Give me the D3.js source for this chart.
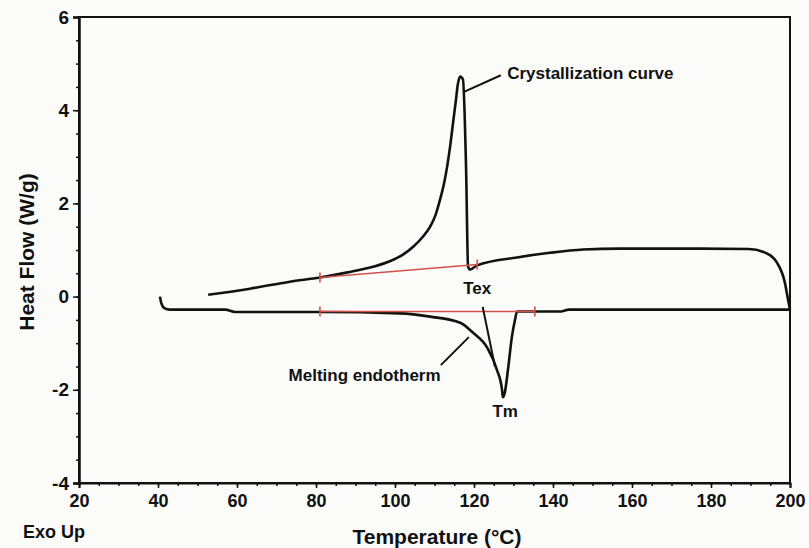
<!DOCTYPE html>
<html><head><meta charset="utf-8">
<script src="https://cdn.jsdelivr.net/npm/d3@7"></script>
<style>
html,body{margin:0;padding:0;background:#fbfbfa;}
svg{display:block;font-family:"Liberation Sans",Arial,sans-serif;}
</style></head>
<body>
<svg id="c" width="809" height="548"></svg>
<script>
// ---- data ----
const xTicks = [20,40,60,80,100,120,140,160,180,200];
const yTicks = [-4,-2,0,2,4,6];
const yTickLabels = ["-4","-2","0","2","4","6"];
// crystallization (cooling) curve: temperature °C, heat flow W/g
const coolT = [52.7,63.3,73.4,81.0,88.0,94.4,99.0,102.0,104.6,107.0,108.9,110.3,111.4,112.4,113.2,114.0,114.7,115.4,115.9,116.5,117.2,118.0,118.5,119.0,120.8,130.9,139.2,147.6,157.0,177.2,189.5,193.5,196.7,198.7,199.5,200.0];
const coolV = [0.04,0.17,0.32,0.41,0.52,0.64,0.77,0.90,1.07,1.28,1.50,1.76,2.08,2.42,2.79,3.25,3.73,4.20,4.55,4.72,4.66,2.73,0.64,0.58,0.67,0.84,0.94,1.01,1.03,1.03,1.02,0.95,0.73,0.30,-0.06,-0.28];
// heating curve with melting endotherm
const heatT = [40.5,40.8,41.5,43.0,57.0,59.5,81.0,101.3,108.9,116.5,119.7,123.3,125.8,127.1,127.3,127.8,128.6,129.6,130.4,130.9,135.4,142.0,144.0,200.0];
const heatV = [0.0,-0.13,-0.24,-0.28,-0.28,-0.33,-0.33,-0.36,-0.43,-0.56,-0.77,-1.09,-1.57,-2.0,-2.16,-2.06,-1.57,-0.86,-0.49,-0.32,-0.32,-0.32,-0.28,-0.28];
// red integration baselines [T1,V1,T2,V2]
const baseUpper = [81.0,0.41,120.8,0.69];
const baseLower = [81.0,-0.32,135.4,-0.32];
const upperBaseTicks = [81.0,120.8];
const lowerBaseTicks = [81.0,135.4];
// annotations
const labelTexts = ["Crystallization curve","Tex","Melting endotherm","Tm"];
const labels = [
  {T:128.4, V:4.76, anchor:"start", lead:[117.6,4.40,126.8,4.75]},
  {T:120.8, V:0.15, anchor:"middle", lead:[122.2,-0.22,125.3,-1.50]},
  {T:92.3, V:-1.72, anchor:"middle", lead:[111.6,-1.47,118.7,-0.87]},
  {T:127.9, V:-2.48, anchor:"middle", lead:null}
];

// ---- layout ----
const svg = d3.select("#c");
const L=79, R=790, T=17, B=483;
const x = d3.scaleLinear().domain([20,200]).range([L,R]);
const y = d3.scaleLinear().domain([-4,6]).range([B,T]);
const FF = "'Liberation Sans',Arial,sans-serif";

// frame
svg.append("rect").attr("x",L).attr("y",T).attr("width",R-L).attr("height",B-T)
  .attr("fill","none").attr("stroke","#111").attr("stroke-width",2);

// x axis
const xMinor = d3.range(20,201,5);
const xa = svg.append("g").attr("transform",`translate(0,${B})`);
xa.call(d3.axisBottom(x).tickValues(xMinor).tickSize(3).tickFormat(""));
xa.call(g=>g.selectAll(".domain").remove());
xa.selectAll("line").attr("stroke","#111").attr("stroke-width",1.5);
const xb = svg.append("g").attr("transform",`translate(0,${B})`);
xb.call(d3.axisBottom(x).tickValues(xTicks).tickSize(5).tickPadding(6).tickFormat(d=>String(d)));
xb.select(".domain").attr("stroke","#111").attr("stroke-width",2);
xb.selectAll("line").attr("stroke","#111").attr("stroke-width",1.5);
xb.selectAll("text").style("font-size","18px").style("font-weight","bold").style("font-family",FF).attr("fill","#111");

// y axis
const yMinor = d3.range(-4,6.01,0.5);
const ya = svg.append("g").attr("transform",`translate(${L},0)`);
ya.call(d3.axisLeft(y).tickValues(yMinor).tickSize(3).tickFormat(""));
ya.call(g=>g.selectAll(".domain").remove());
ya.selectAll("line").attr("stroke","#111").attr("stroke-width",1.5);
const yb = svg.append("g").attr("transform",`translate(${L},0)`);
yb.call(d3.axisLeft(y).tickValues(yTicks).tickSize(6).tickPadding(4).tickFormat((d,i)=>yTickLabels[i]));
yb.select(".domain").attr("stroke","#111").attr("stroke-width",2.5);
yb.selectAll("line").attr("stroke","#111").attr("stroke-width",1.5);
yb.selectAll("text").style("font-size","19px").style("font-weight","bold").style("font-family",FF).attr("fill","#111");

// axis titles
svg.append("text").attr("transform","translate(34,252) rotate(-90)").attr("text-anchor","middle")
  .style("font-size","21px").style("font-weight","bold").style("font-family",FF).attr("fill","#111").text("Heat Flow (W/g)");
svg.append("text").attr("x",437).attr("y",544).attr("text-anchor","middle")
  .style("font-size","21px").style("font-weight","bold").style("font-family",FF).attr("fill","#111").text("Temperature (°C)");
svg.append("text").attr("x",54).attr("y",538).attr("text-anchor","middle")
  .style("font-size","18px").style("font-weight","bold").style("font-family",FF).attr("fill","#111").text("Exo Up");

// red baselines
const red="#d2504a";
function base(b, ticks){
  svg.append("line").attr("x1",x(b[0])).attr("y1",y(b[1])).attr("x2",x(b[2])).attr("y2",y(b[3]))
    .attr("stroke",red).attr("stroke-width",1.4);
  ticks.forEach(t=>{
    const v = b[1]+(b[3]-b[1])*(t-b[0])/(b[2]-b[0]);
    svg.append("line").attr("x1",x(t)).attr("x2",x(t)).attr("y1",y(v)-5).attr("y2",y(v)+5)
      .attr("stroke",red).attr("stroke-width",1.6);
  });
}

// curves
const line = d3.line().x(d=>x(d[0])).y(d=>y(d[1])).curve(d3.curveMonotoneX);
svg.append("path").datum(coolT.map((t,i)=>[t,coolV[i]])).attr("d",line)
  .attr("fill","none").attr("stroke","#111").attr("stroke-width",2.6).attr("stroke-linejoin","round");
svg.append("path").datum(heatT.map((t,i)=>[t,heatV[i]])).attr("d",line)
  .attr("fill","none").attr("stroke","#111").attr("stroke-width",2.6).attr("stroke-linejoin","round");
base(baseUpper, upperBaseTicks);
base(baseLower, lowerBaseTicks);

// annotations
labels.forEach((l,i)=>{
  if(l.lead){
    svg.append("line").attr("x1",x(l.lead[0])).attr("y1",y(l.lead[1])).attr("x2",x(l.lead[2])).attr("y2",y(l.lead[3]))
      .attr("stroke","#111").attr("stroke-width",2);
  }
  svg.append("text").attr("x",x(l.T)).attr("y",y(l.V)).attr("text-anchor",l.anchor)
    .attr("dominant-baseline","middle").style("font-size","17px").style("font-weight","bold")
    .style("font-family",FF).attr("fill","#111").text(labelTexts[i]);
});
</script>
</body></html>
